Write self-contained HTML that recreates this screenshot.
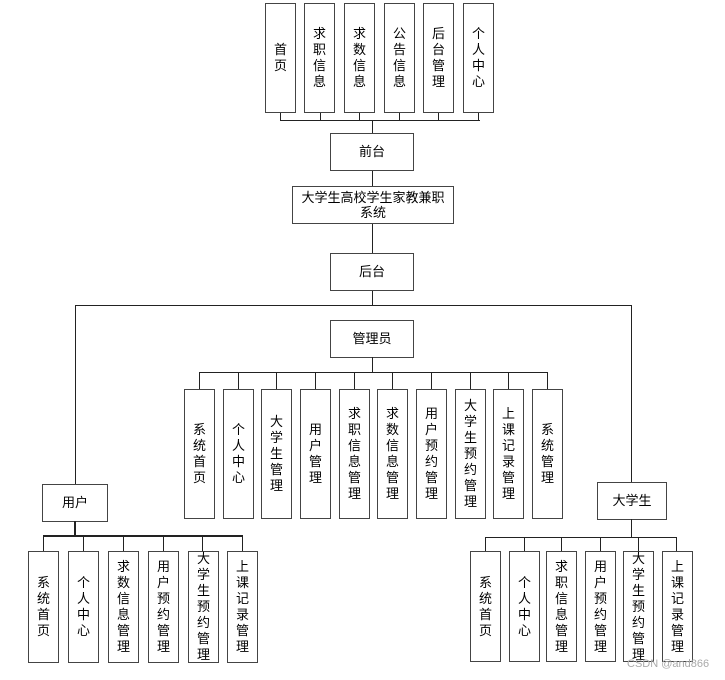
<!DOCTYPE html>
<html><head><meta charset="utf-8"><style>
body{margin:0;width:725px;height:680px;background:#fff;position:relative;overflow:hidden;font-family:"Liberation Sans","Noto Sans CJK SC",sans-serif;font-size:13px;color:#000}
.b{position:absolute;border:1.5px solid #444;box-sizing:border-box;background:#fff;display:flex;align-items:center;justify-content:center;text-align:center;line-height:16px}
.v{width:31px;flex-direction:column}
.l{position:absolute;background:#222}
.h{height:1px}.w{width:1px}
</style></head><body>
<div class="l h" style="left:280px;top:120px;width:200px"></div>
<div class="l w" style="left:280px;top:112px;height:8px"></div>
<div class="l w" style="left:320px;top:112px;height:8px"></div>
<div class="l w" style="left:359px;top:112px;height:8px"></div>
<div class="l w" style="left:399px;top:112px;height:8px"></div>
<div class="l w" style="left:438px;top:112px;height:8px"></div>
<div class="l w" style="left:478px;top:112px;height:8px"></div>
<div class="l w" style="left:372px;top:120px;height:185px"></div>
<div class="b v" style="left:265px;top:3px;height:110px">首<br>页</div>
<div class="b v" style="left:304px;top:3px;height:110px">求<br>职<br>信<br>息</div>
<div class="b v" style="left:344px;top:3px;height:110px">求<br>数<br>信<br>息</div>
<div class="b v" style="left:384px;top:3px;height:110px">公<br>告<br>信<br>息</div>
<div class="b v" style="left:423px;top:3px;height:110px">后<br>台<br>管<br>理</div>
<div class="b v" style="left:463px;top:3px;height:110px">个<br>人<br>中<br>心</div>
<div class="b" style="left:330px;top:133px;width:84px;height:38px">前台</div>
<div class="b" style="left:292px;top:186px;width:162px;height:38px;line-height:15px">大学生高校学生家教兼职<br>系统</div>
<div class="b" style="left:330px;top:253px;width:84px;height:38px">后台</div>
<div class="l h" style="left:75px;top:305px;width:557px"></div>
<div class="l w" style="left:75px;top:305px;height:180px"></div>
<div class="l w" style="left:631px;top:305px;height:178px"></div>
<div class="b" style="left:330px;top:320px;width:84px;height:38px">管理员</div>
<div class="l w" style="left:372px;top:357px;height:16px"></div>
<div class="l h" style="left:199px;top:372px;width:349px"></div>
<div class="l w" style="left:199px;top:372px;height:18px"></div>
<div class="l w" style="left:238px;top:372px;height:18px"></div>
<div class="l w" style="left:276px;top:372px;height:18px"></div>
<div class="l w" style="left:315px;top:372px;height:18px"></div>
<div class="l w" style="left:354px;top:372px;height:18px"></div>
<div class="l w" style="left:392px;top:372px;height:18px"></div>
<div class="l w" style="left:431px;top:372px;height:18px"></div>
<div class="l w" style="left:470px;top:372px;height:18px"></div>
<div class="l w" style="left:508px;top:372px;height:18px"></div>
<div class="l w" style="left:547px;top:372px;height:18px"></div>
<div class="b v" style="left:184px;top:389px;height:130px">系<br>统<br>首<br>页</div>
<div class="b v" style="left:223px;top:389px;height:130px">个<br>人<br>中<br>心</div>
<div class="b v" style="left:261px;top:389px;height:130px">大<br>学<br>生<br>管<br>理</div>
<div class="b v" style="left:300px;top:389px;height:130px">用<br>户<br>管<br>理</div>
<div class="b v" style="left:339px;top:389px;height:130px">求<br>职<br>信<br>息<br>管<br>理</div>
<div class="b v" style="left:377px;top:389px;height:130px">求<br>数<br>信<br>息<br>管<br>理</div>
<div class="b v" style="left:416px;top:389px;height:130px">用<br>户<br>预<br>约<br>管<br>理</div>
<div class="b v" style="left:455px;top:389px;height:130px">大<br>学<br>生<br>预<br>约<br>管<br>理</div>
<div class="b v" style="left:493px;top:389px;height:130px">上<br>课<br>记<br>录<br>管<br>理</div>
<div class="b v" style="left:532px;top:389px;height:130px">系<br>统<br>管<br>理</div>
<div class="b" style="left:42px;top:484px;width:66px;height:38px">用户</div>
<div class="l" style="left:74px;top:521px;width:2px;height:15px"></div>
<div class="l" style="left:43px;top:535px;width:200px;height:2px"></div>
<div class="l w" style="left:43px;top:535px;height:17px"></div>
<div class="l w" style="left:83px;top:535px;height:17px"></div>
<div class="l w" style="left:123px;top:535px;height:17px"></div>
<div class="l w" style="left:163px;top:535px;height:17px"></div>
<div class="l w" style="left:202px;top:535px;height:17px"></div>
<div class="l w" style="left:242px;top:535px;height:17px"></div>
<div class="b v" style="left:28px;top:551px;height:112px">系<br>统<br>首<br>页</div>
<div class="b v" style="left:68px;top:551px;height:112px">个<br>人<br>中<br>心</div>
<div class="b v" style="left:108px;top:551px;height:112px">求<br>数<br>信<br>息<br>管<br>理</div>
<div class="b v" style="left:148px;top:551px;height:112px">用<br>户<br>预<br>约<br>管<br>理</div>
<div class="b v" style="left:188px;top:551px;height:112px">大<br>学<br>生<br>预<br>约<br>管<br>理</div>
<div class="b v" style="left:227px;top:551px;height:112px">上<br>课<br>记<br>录<br>管<br>理</div>
<div class="b" style="left:597px;top:482px;width:70px;height:38px">大学生</div>
<div class="l w" style="left:631px;top:519px;height:18px"></div>
<div class="l h" style="left:485px;top:537px;width:192px"></div>
<div class="l w" style="left:485px;top:537px;height:15px"></div>
<div class="l w" style="left:524px;top:537px;height:15px"></div>
<div class="l w" style="left:561px;top:537px;height:15px"></div>
<div class="l w" style="left:600px;top:537px;height:15px"></div>
<div class="l w" style="left:638px;top:537px;height:15px"></div>
<div class="l w" style="left:676px;top:537px;height:15px"></div>
<div class="b v" style="left:470px;top:551px;height:111px">系<br>统<br>首<br>页</div>
<div class="b v" style="left:509px;top:551px;height:111px">个<br>人<br>中<br>心</div>
<div class="b v" style="left:546px;top:551px;height:111px">求<br>职<br>信<br>息<br>管<br>理</div>
<div class="b v" style="left:585px;top:551px;height:111px">用<br>户<br>预<br>约<br>管<br>理</div>
<div class="b v" style="left:623px;top:551px;height:111px">大<br>学<br>生<br>预<br>约<br>管<br>理</div>
<div class="b v" style="left:662px;top:551px;height:111px">上<br>课<br>记<br>录<br>管<br>理</div>
<div style="position:absolute;left:627px;top:658px;font-size:11px;color:#aaa">CSDN @and866</div>
</body></html>
